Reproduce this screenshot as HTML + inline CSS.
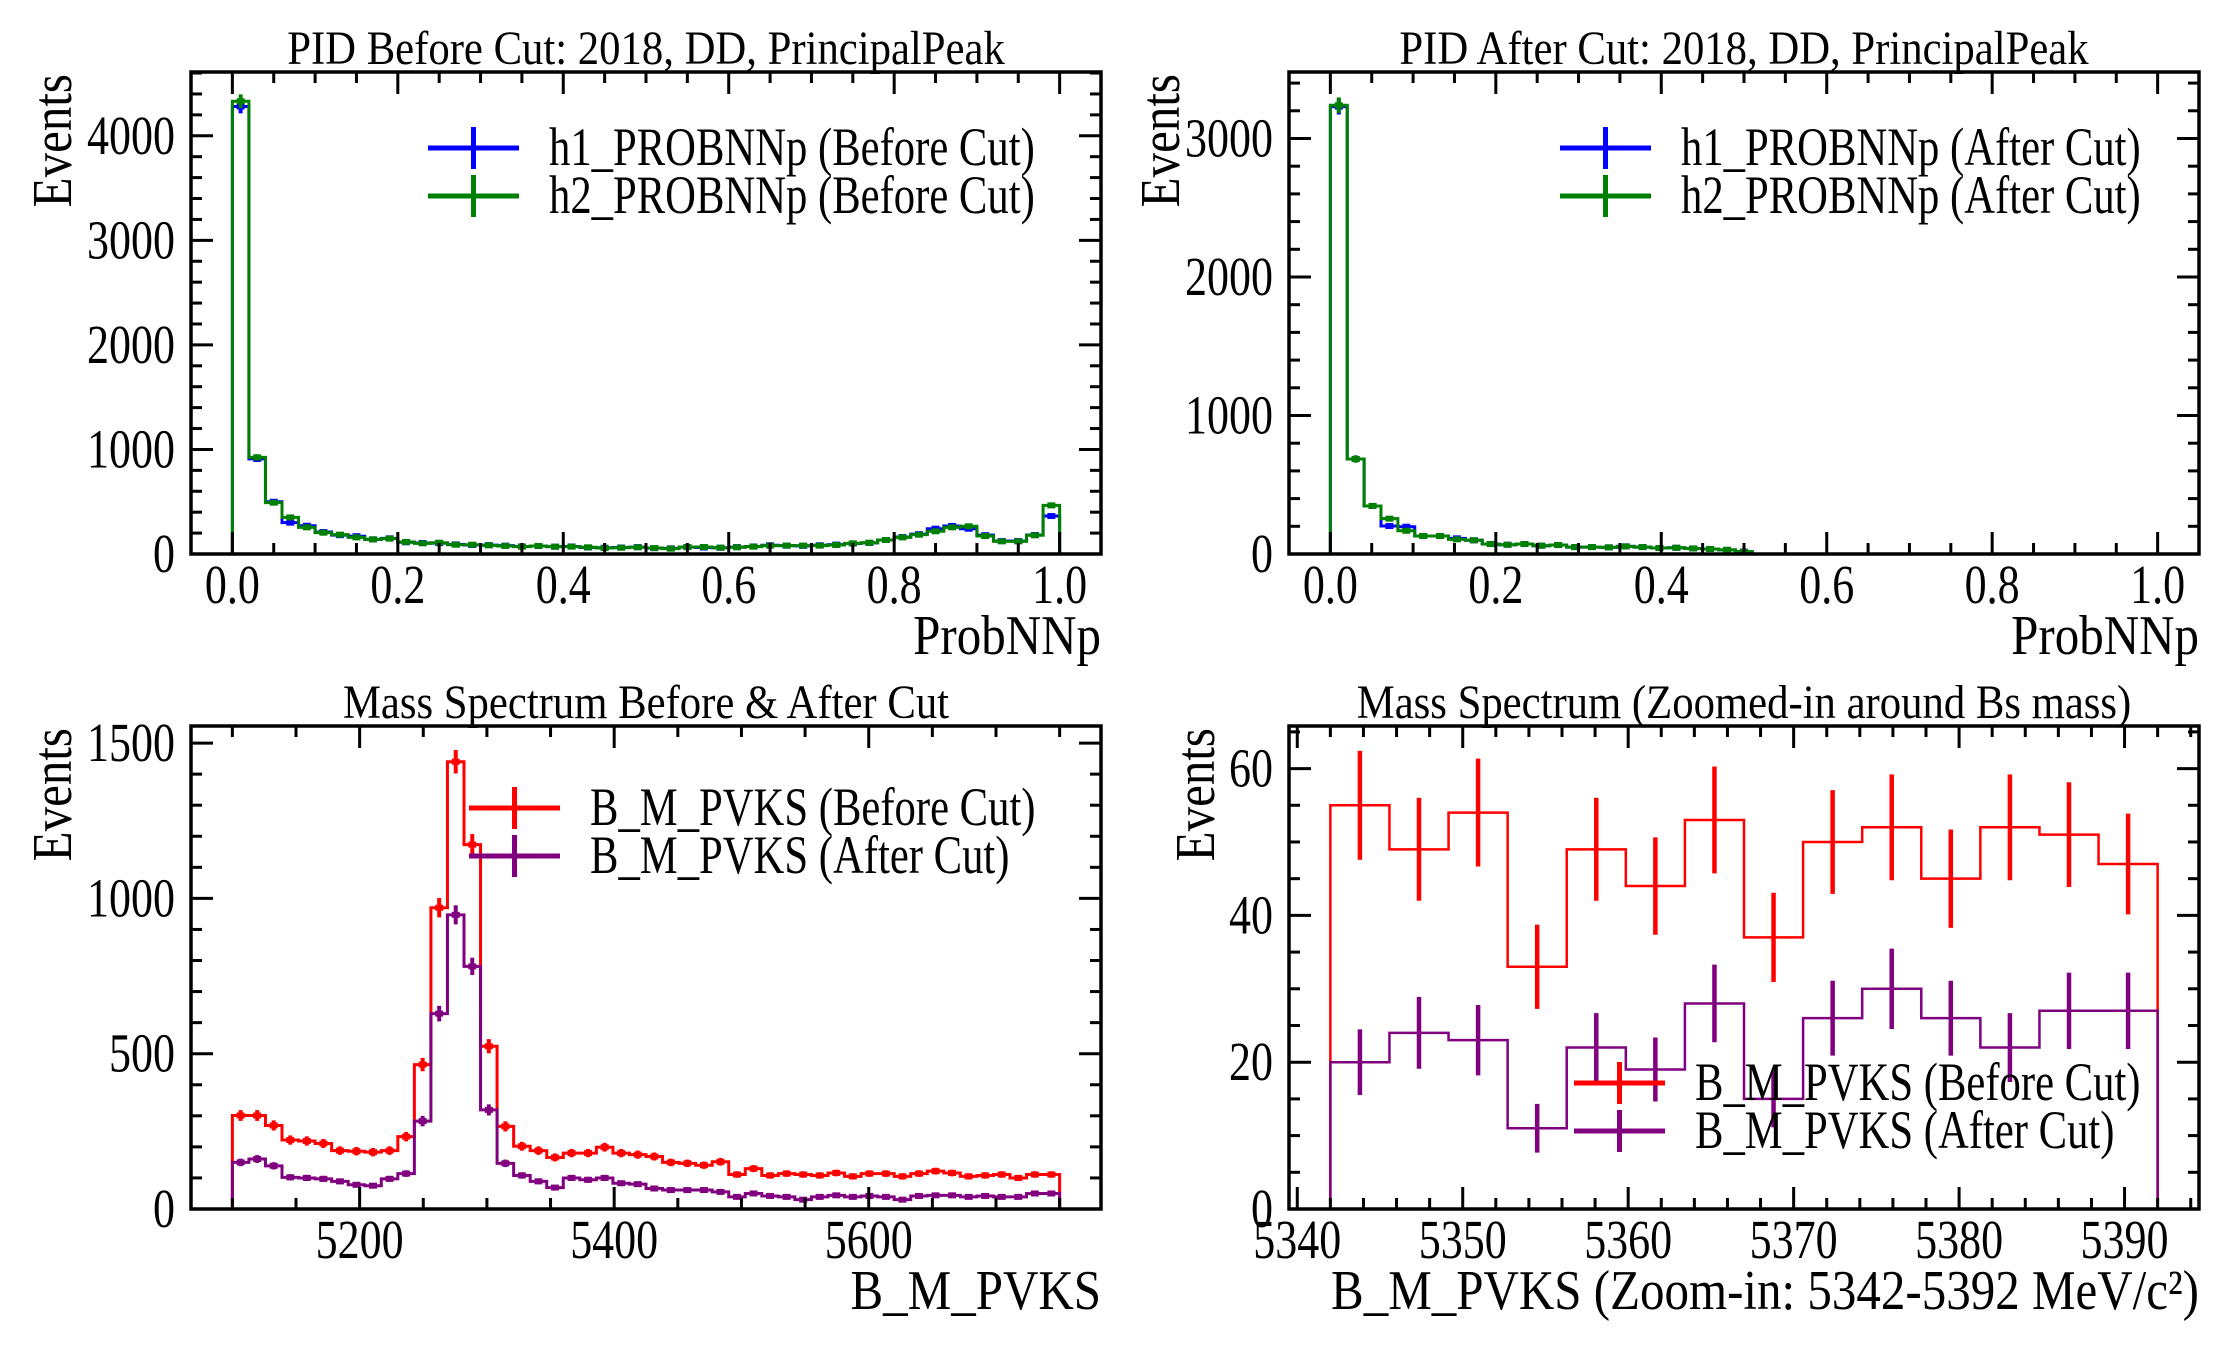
<!DOCTYPE html>
<html><head><meta charset="utf-8">
<style>
html,body{margin:0;padding:0;background:#fff;}
svg{display:block;font-family:"Liberation Serif",serif;}
</style></head>
<body>
<svg id="fig" xmlns="http://www.w3.org/2000/svg" width="2232" height="1350" viewBox="0 0 2232 1350">
<rect x="0" y="0" width="2232" height="1350" fill="#fff"/>
</svg>
<script>
// ---- Data ----
const pidBeforeH1 = [4280,910,500,300,270,210,180,170,140,150,112,105,104,92,86,85,80,72,76,70,72,62,60,62,66,56,54,66,62,60,66,72,84,80,78,84,90,100,106,134,162,190,242,268,242,180,124,124,182,363];
const pidBeforeH2 = [4330,924,491,350,255,204,185,159,140,147,115,102,108,89,89,83,77,70,77,70,70,64,57,60,64,57,51,67,67,60,64,70,80,80,80,80,86,102,108,134,159,185,217,255,265,172,121,121,179,465];
const pidAfterH1 = [3230,686,347,202,197,130,130,113,99,72,67,72,60,65,50,50,48,55,50,43,45,40,36,30,17];
const pidAfterH2 = [3240,686,347,255,168,130,130,106,99,72,67,72,60,65,50,50,48,55,50,43,45,40,36,30,17];
const massBefore = [301,301,269,222,219,211,188,186,183,188,233,465,970,1440,1173,524,266,202,188,166,180,180,199,180,175,169,150,147,141,152,111,130,108,114,111,108,116,105,114,114,105,114,122,116,105,108,111,100,111,111];
const massAfter = [150,161,139,102,100,97,89,78,75,97,114,283,629,947,781,319,147,108,89,69,100,94,100,83,80,66,61,61,61,55,39,50,42,39,30,39,44,39,42,39,30,42,44,44,39,42,39,39,50,50];
const zoomBefore = [55,49,54,33,49,44,53,37,50,52,45,52,51,47];
const zoomAfter = [20,24,23,11,22,19,28,15,26,30,26,22,27,27];
const pidTicksX = ["0.0","0.2","0.4","0.6","0.8","1.0"];
const pidTicksYBefore = ["0","1000","2000","3000","4000"];
const pidTicksYAfter = ["0","1000","2000","3000"];
const massTicksX = ["5200","5400","5600"];
const massTicksY = ["0","500","1000","1500"];
const zoomTicksX = ["5340","5350","5360","5370","5380","5390"];
const zoomTicksY = ["0","20","40","60"];

const NS = "http://www.w3.org/2000/svg";
const fig = document.getElementById('fig');
function mk(tag, attrs, parent){
  const e = document.createElementNS(NS, tag);
  for (const k in attrs) e.setAttribute(k, attrs[k]);
  (parent||fig).appendChild(e);
  return e;
}
function txt(parent, x, y, size, sxs, anchor, str, rot){
  const tr = 'translate(' + x + ',' + y + ')' + (rot ? ' rotate(-90)' : '') + ' scale(' + sxs + ',1)';
  const t = mk('text', {x: 0, y: 0, 'font-size': size, 'text-anchor': anchor, transform: tr}, parent);
  t.textContent = str;
  return t;
}

function panel(c){
  const g = mk('g', {});
  
  
  const W = c.x1 - c.x0, H = c.y1 - c.y0;
  const sx = v => c.x0 + (v - c.xmin) / (c.xmax - c.xmin) * W;
  const sy = v => c.y1 - (v - 0) / (c.ymax - 0) * H;
  c.series.forEach(s => {
    const n = s.values.length;
    const bw = (s.hi - s.lo) / n;
    let d = 'M' + sx(s.lo) + ',' + sy(0);
    for (let i = 0; i < n; i++) {
      d += ' L' + sx(s.lo + i*bw) + ',' + sy(s.values[i]) + ' L' + sx(s.lo + (i+1)*bw) + ',' + sy(s.values[i]);
    }
    d += ' L' + sx(s.hi) + ',' + sy(0);
    const p = mk('path', {d: d, fill: 'none', stroke: s.color, 'stroke-width': s.lw || 3}, g);
    
    
    for (let i = 0; i < n; i++) {
      const v = s.values[i], e = Math.sqrt(v);
      const xc = sx(s.lo + (i+0.5)*bw);
      const l = mk('line', {x1: xc, x2: xc, y1: sy(v - e), y2: sy(v + e), stroke: s.color, 'stroke-width': s.ew || 4}, g);
      
      
      if (s.cap) {
        const h = mk('line', {x1: xc - s.cap, x2: xc + s.cap, y1: sy(v), y2: sy(v), stroke: s.color, 'stroke-width': 6}, g);
        
        
      }
    }
  });
  const tk = (x1,y1,x2,y2) => { const t = mk('line',{x1:x1,y1:y1,x2:x2,y2:y2,stroke:'#000','stroke-width':3},g);   };
  const ML = 22, mL = 11;
  for (let v = c.xminorStart; v <= c.xmax + 1e-9; v += c.xminor) {
    if (v < c.xmin) continue;
    const X = sx(v);
    const isMaj = Math.abs(Math.round((v - c.xmajStart)/c.xmajor) * c.xmajor + c.xmajStart - v) < 1e-6;
    const L = isMaj ? ML : mL;
    tk(X, c.y1, X, c.y1 - L); tk(X, c.y0, X, c.y0 + L);
  }
  for (let v = 0; v <= c.ymax + 1e-9; v += c.yminor) {
    const Y = sy(v);
    const isMaj = Math.abs(Math.round(v / c.ymajor) * c.ymajor - v) < 1e-6;
    const L = isMaj ? ML : mL;
    tk(c.x0, Y, c.x0 + L, Y); tk(c.x1, Y, c.x1 - L, Y);
  }
  const fr = mk('rect', {x: c.x0, y: c.y0, width: W, height: H, fill: 'none', stroke: '#000', 'stroke-width': 3.5}, g);
  
  
  c.xticks.forEach((lab, i) => {
    const v = c.xmajStart + i * c.xmajor;
    const t = txt(g, sx(v), c.y1 + 49, 55, 0.8, 'middle', lab);
    
    
  });
  c.yticks.forEach((lab, i) => {
    const v = i * c.ymajor;
    const t = txt(g, c.x0 - 16, sy(v) + 18, 55, 0.8, 'end', lab);
    
    
  });
  const tt = txt(g, (c.x0 + c.x1)/2, c.y0 - 8, 48, 0.89, 'middle', c.title);
  
  
  const xl = txt(g, c.x1, c.y1 + 100, 56, 0.875, 'end', c.xlabel);
  
  
  const yl = txt(g, c.ylx, c.y0 + 2, 56, 0.875, 'end', 'Events', true);
  
  
  const lg = mk('g', {}, g);
  
  
  c.legend.forEach((it, i) => {
    const y = c.legY + i * 48;
    const e = mk('g', {}, lg);
    
    
    mk('line', {x1: c.legX, x2: c.legX + 91, y1: y, y2: y, stroke: it.color, 'stroke-width': 5}, e);
    mk('line', {x1: c.legX + 45.5, x2: c.legX + 45.5, y1: y - 21, y2: y + 21, stroke: it.color, 'stroke-width': 5}, e);
    txt(e, c.legX + 121, y + 17, 54, 0.79, 'start', it.label);
  });
}

panel({name:'pid-before-panel', x0:191, x1:1101, y0:72, y1:554, xmin:-0.05, xmax:1.05, ymax:4610,
  xmajStart:0, xmajor:0.2, xminorStart:-0.05, xminor:0.05, ymajor:1000, yminor:200,
  xticks:pidTicksX, yticks:pidTicksYBefore, title:'PID Before Cut: 2018, DD, PrincipalPeak', xlabel:'ProbNNp', ylx:71,
  series:[{key:'h1-before', values:pidBeforeH1, lo:0, hi:1, color:'#0000ff', cap:4},{key:'h2-before', values:pidBeforeH2, lo:0, hi:1, color:'#008000', cap:4}],
  legend:[{color:'#0000ff',label:'h1_PROBNNp (Before Cut)'},{color:'#008000',label:'h2_PROBNNp (Before Cut)'}], legX:428, legY:148});

panel({name:'pid-after-panel', x0:1289, x1:2199, y0:72, y1:554, xmin:-0.05, xmax:1.05, ymax:3480,
  xmajStart:0, xmajor:0.2, xminorStart:-0.05, xminor:0.05, ymajor:1000, yminor:200,
  xticks:pidTicksX, yticks:pidTicksYAfter, title:'PID After Cut: 2018, DD, PrincipalPeak', xlabel:'ProbNNp', ylx:1179,
  series:[{key:'h1-after', values:pidAfterH1, lo:0, hi:0.51, color:'#0000ff', cap:4},{key:'h2-after', values:pidAfterH2, lo:0, hi:0.51, color:'#008000', cap:4}],
  legend:[{color:'#0000ff',label:'h1_PROBNNp (After Cut)'},{color:'#008000',label:'h2_PROBNNp (After Cut)'}], legX:1560, legY:148});

panel({name:'mass-spectrum-panel', x0:191, x1:1101, y0:726, y1:1209, xmin:5067.5, xmax:5782.5, ymax:1555,
  xmajStart:5200, xmajor:200, xminorStart:5100, xminor:50, ymajor:500, yminor:100,
  xticks:massTicksX, yticks:massTicksY, title:'Mass Spectrum Before & After Cut', xlabel:'B_M_PVKS', ylx:71,
  series:[{key:'mass-before', values:massBefore, lo:5100, hi:5750, color:'#ff0000', cap:4},{key:'mass-after', values:massAfter, lo:5100, hi:5750, color:'#800080', cap:4}],
  legend:[{color:'#ff0000',label:'B_M_PVKS (Before Cut)'},{color:'#800080',label:'B_M_PVKS (After Cut)'}], legX:469, legY:808});

panel({name:'mass-zoom-panel', x0:1289, x1:2199, y0:726, y1:1209, xmin:5339.5, xmax:5394.5, ymax:65.8,
  xmajStart:5340, xmajor:10, xminorStart:5340, xminor:2, ymajor:20, yminor:5,
  xticks:zoomTicksX, yticks:zoomTicksY, title:'Mass Spectrum (Zoomed-in around Bs mass)', xlabel:'B_M_PVKS (Zoom-in: 5342-5392 MeV/c²)', ylx:1214,
  series:[{key:'zoom-before', values:zoomBefore, lo:5342, hi:5392, color:'#ff0000', lw:2.5, ew:4.5},{key:'zoom-after', values:zoomAfter, lo:5342, hi:5392, color:'#800080', lw:2.5, ew:4.5}],
  legend:[{color:'#ff0000',label:'B_M_PVKS (Before Cut)'},{color:'#800080',label:'B_M_PVKS (After Cut)'}], legX:1574, legY:1083});
</script>
</body></html>
